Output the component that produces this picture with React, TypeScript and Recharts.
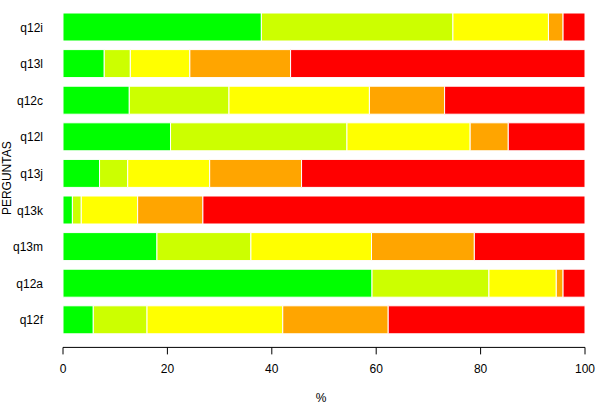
import { BarChart, Bar, XAxis, YAxis } from "recharts";

const questions = ["q12i", "q13l", "q12c", "q12l", "q13j", "q13k", "q13m", "q12a", "q12f"];

// share of answers per level, in %
const level1 = [38.0, 7.9, 12.7, 20.6, 7.0, 1.8, 18.0, 59.2, 5.8];
const level2 = [36.7, 5.0, 19.1, 33.8, 5.4, 1.7, 18.0, 22.4, 10.3];
const level3 = [18.3, 11.4, 26.9, 23.6, 15.7, 10.8, 23.1, 12.9, 26.0];
const level4 = [2.8, 19.3, 14.4, 7.3, 17.6, 12.5, 19.7, 1.3, 20.2];
const level5 = [4.2, 56.4, 26.9, 14.7, 54.3, 73.2, 21.2, 4.2, 37.7];

const xTicks = [0, 20, 40, 60, 80, 100];

const levels = [
  { key: "l1", values: level1, color: "#00ff00" },
  { key: "l2", values: level2, color: "#ccff00" },
  { key: "l3", values: level3, color: "#ffff00" },
  { key: "l4", values: level4, color: "#ffa500" },
  { key: "l5", values: level5, color: "#ff0000" },
];

const data = questions.map((q, i) => {
  const row: Record<string, string | number> = { name: q };
  levels.forEach((l) => {
    row[l.key] = l.values[i];
  });
  return row;
});

const font = { fontFamily: "'Liberation Sans', Arial, sans-serif", fontSize: 12, fill: "#000" };

export default function App() {
  return (
    <div style={{ position: "absolute", left: 0, top: 0, background: "#fff" }}>
      <BarChart
        width={600}
        height={405}
        data={data}
        layout="vertical"
        margin={{ top: 9, right: 15, bottom: 0, left: 0 }}
      >
        <XAxis
          type="number"
          domain={[0, 100]}
          ticks={xTicks}
          height={57.6}
          tick={font}
          tickSize={7}
          tickMargin={10}
          stroke="#000"
          axisLine={{ stroke: "#000" }}
          tickLine={{ stroke: "#000" }}
          label={{ value: "%", position: "insideBottom", offset: 3, dx: -3, style: font }}
        />
        <YAxis
          type="category"
          dataKey="name"
          width={63}
          tick={font}
          tickLine={false}
          axisLine={false}
          tickSize={0}
          tickMargin={20}
          padding={{ top: 0, bottom: 9 }}
          label={{
            value: "PERGUNTAS",
            angle: -90,
            position: "insideLeft",
            offset: 7,
            style: { ...font, textAnchor: "middle" },
          }}
        />
        {levels.map((l) => (
          <Bar
            key={l.key}
            dataKey={l.key}
            stackId="a"
            fill={l.color}
            stroke="#ffffff"
            strokeWidth={1}
            barSize={28}
            isAnimationActive={false}
          />
        ))}
      </BarChart>
    </div>
  );
}
